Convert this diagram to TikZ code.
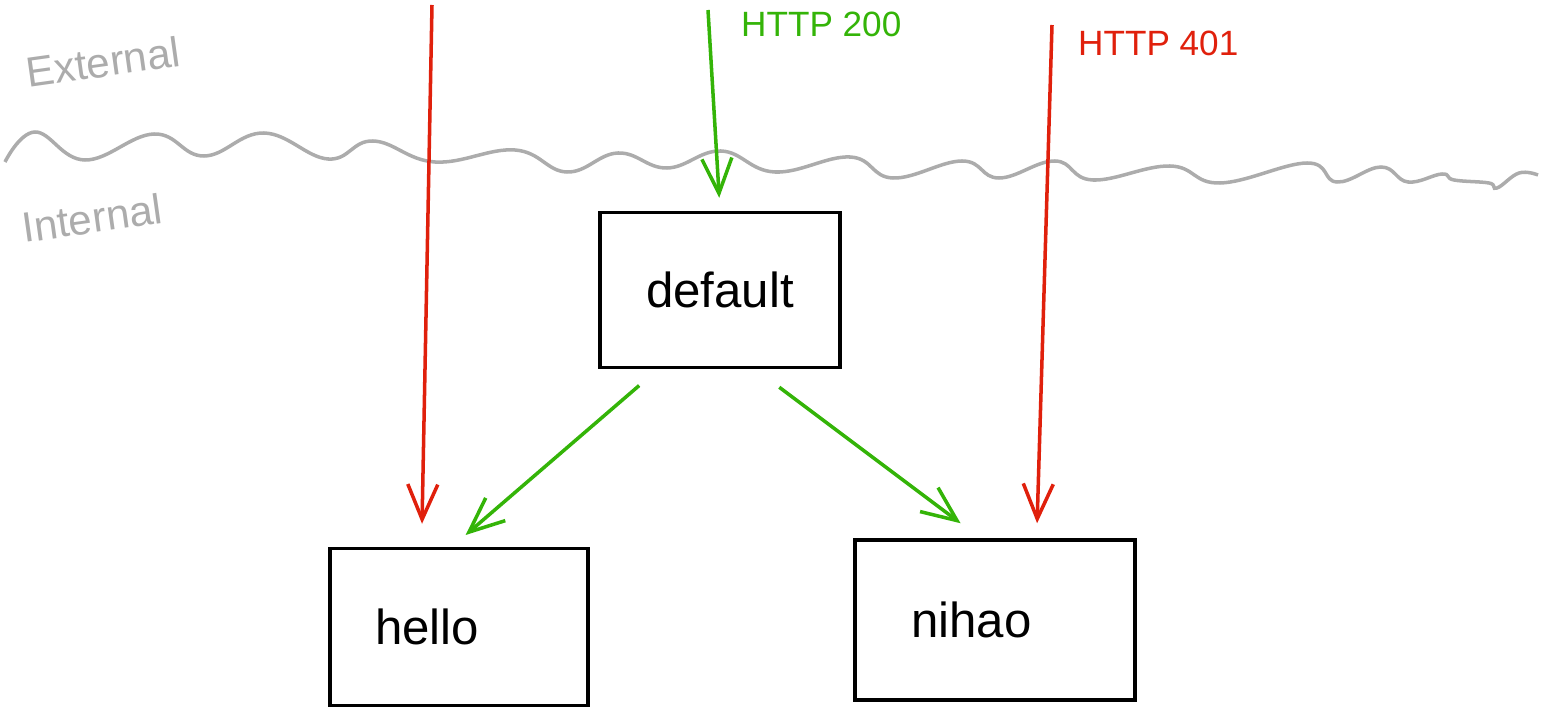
\documentclass[tikz,border=0pt]{standalone}
\usepackage{fontspec}
\setmainfont{Liberation Sans}
\usetikzlibrary{arrows.meta, positioning}
\definecolor{sketchred}{RGB}{224,32,12}
\definecolor{sketchgreen}{RGB}{52,180,8}
\definecolor{sketchgray}{RGB}{172,172,172}

\begin{document}
\begin{tikzpicture}[x=0.02cm, y=-0.02cm,
    svc/.style={draw, line width=2pt, font=\fontsize{28}{32}\selectfont},
    okflow/.style={->, sketchgreen, line width=2pt},
    denyflow/.style={->, sketchred, line width=2pt},
    zone/.style={sketchgray, font=\fontsize{24}{28}\selectfont, rotate=8},
    code/.style={font=\fontsize{20}{24}\selectfont, anchor=west},
    >={Straight Barb[length=7mm,width=6mm]}]
      \useasboundingbox (0,0) rectangle (1544,712);

      % boundary between outside and cluster
      \draw[sketchgray, line width=2pt] plot[smooth, tension=0.7] coordinates {
        (5,162) (35,132) (85,160) (154,134) (204,156) (264,133) (328,159)
        (373,141) (435,162) (515,150) (567,172) (618,153) (667,168) (721,151)
        (775,172) (850,157) (893,178) (962,161) (999,178) (1055,161) (1093,180)
        (1170,166) (1220,183) (1307,163) (1337,182) (1381,167) (1408,182)
        (1442,174) (1454,180) (1489,183) (1497,188) (1519,173) (1538,175)};
      \node[zone] (ext) at (103,62) {External};
      \node[zone] (int) at (92,218) {Internal};

      % services
      \node[svc, minimum width=4.8cm, minimum height=3.1cm] (default) at (720,290) {default};
      \node[svc, minimum width=5.16cm, minimum height=3.14cm, text width=3.35cm, align=left] (hello) at (459,627) {hello};
      \node[svc, minimum width=5.6cm, minimum height=3.2cm, text width=3.35cm, align=left] (nihao) at (995,620) {nihao};

      % incoming requests
      \coordinate (in1) at (432,5);
      \coordinate (in2) at (708,10);
      \coordinate (in3) at (1052,25);
      \node[code, sketchgreen] (ok) at (735,24) {HTTP 200};
      \node[code, sketchred] (deny) at (1072,43) {HTTP 401};

      \draw[denyflow, shorten >=0.46cm] (in1) -- (hello.115);
      \draw[okflow, shorten >=0.26cm] (in2) -- (default.north);
      \draw[denyflow, shorten >=0.3cm] (in3) -- (nihao.63);

      \draw[okflow, shorten <=0.5cm, shorten >=0.36cm] (default.232) -- (hello.95);
      \draw[okflow, shorten <=0.6cm, shorten >=0.5cm] (default.294) -- (nihao.100);
    \end{tikzpicture}
\end{document}
